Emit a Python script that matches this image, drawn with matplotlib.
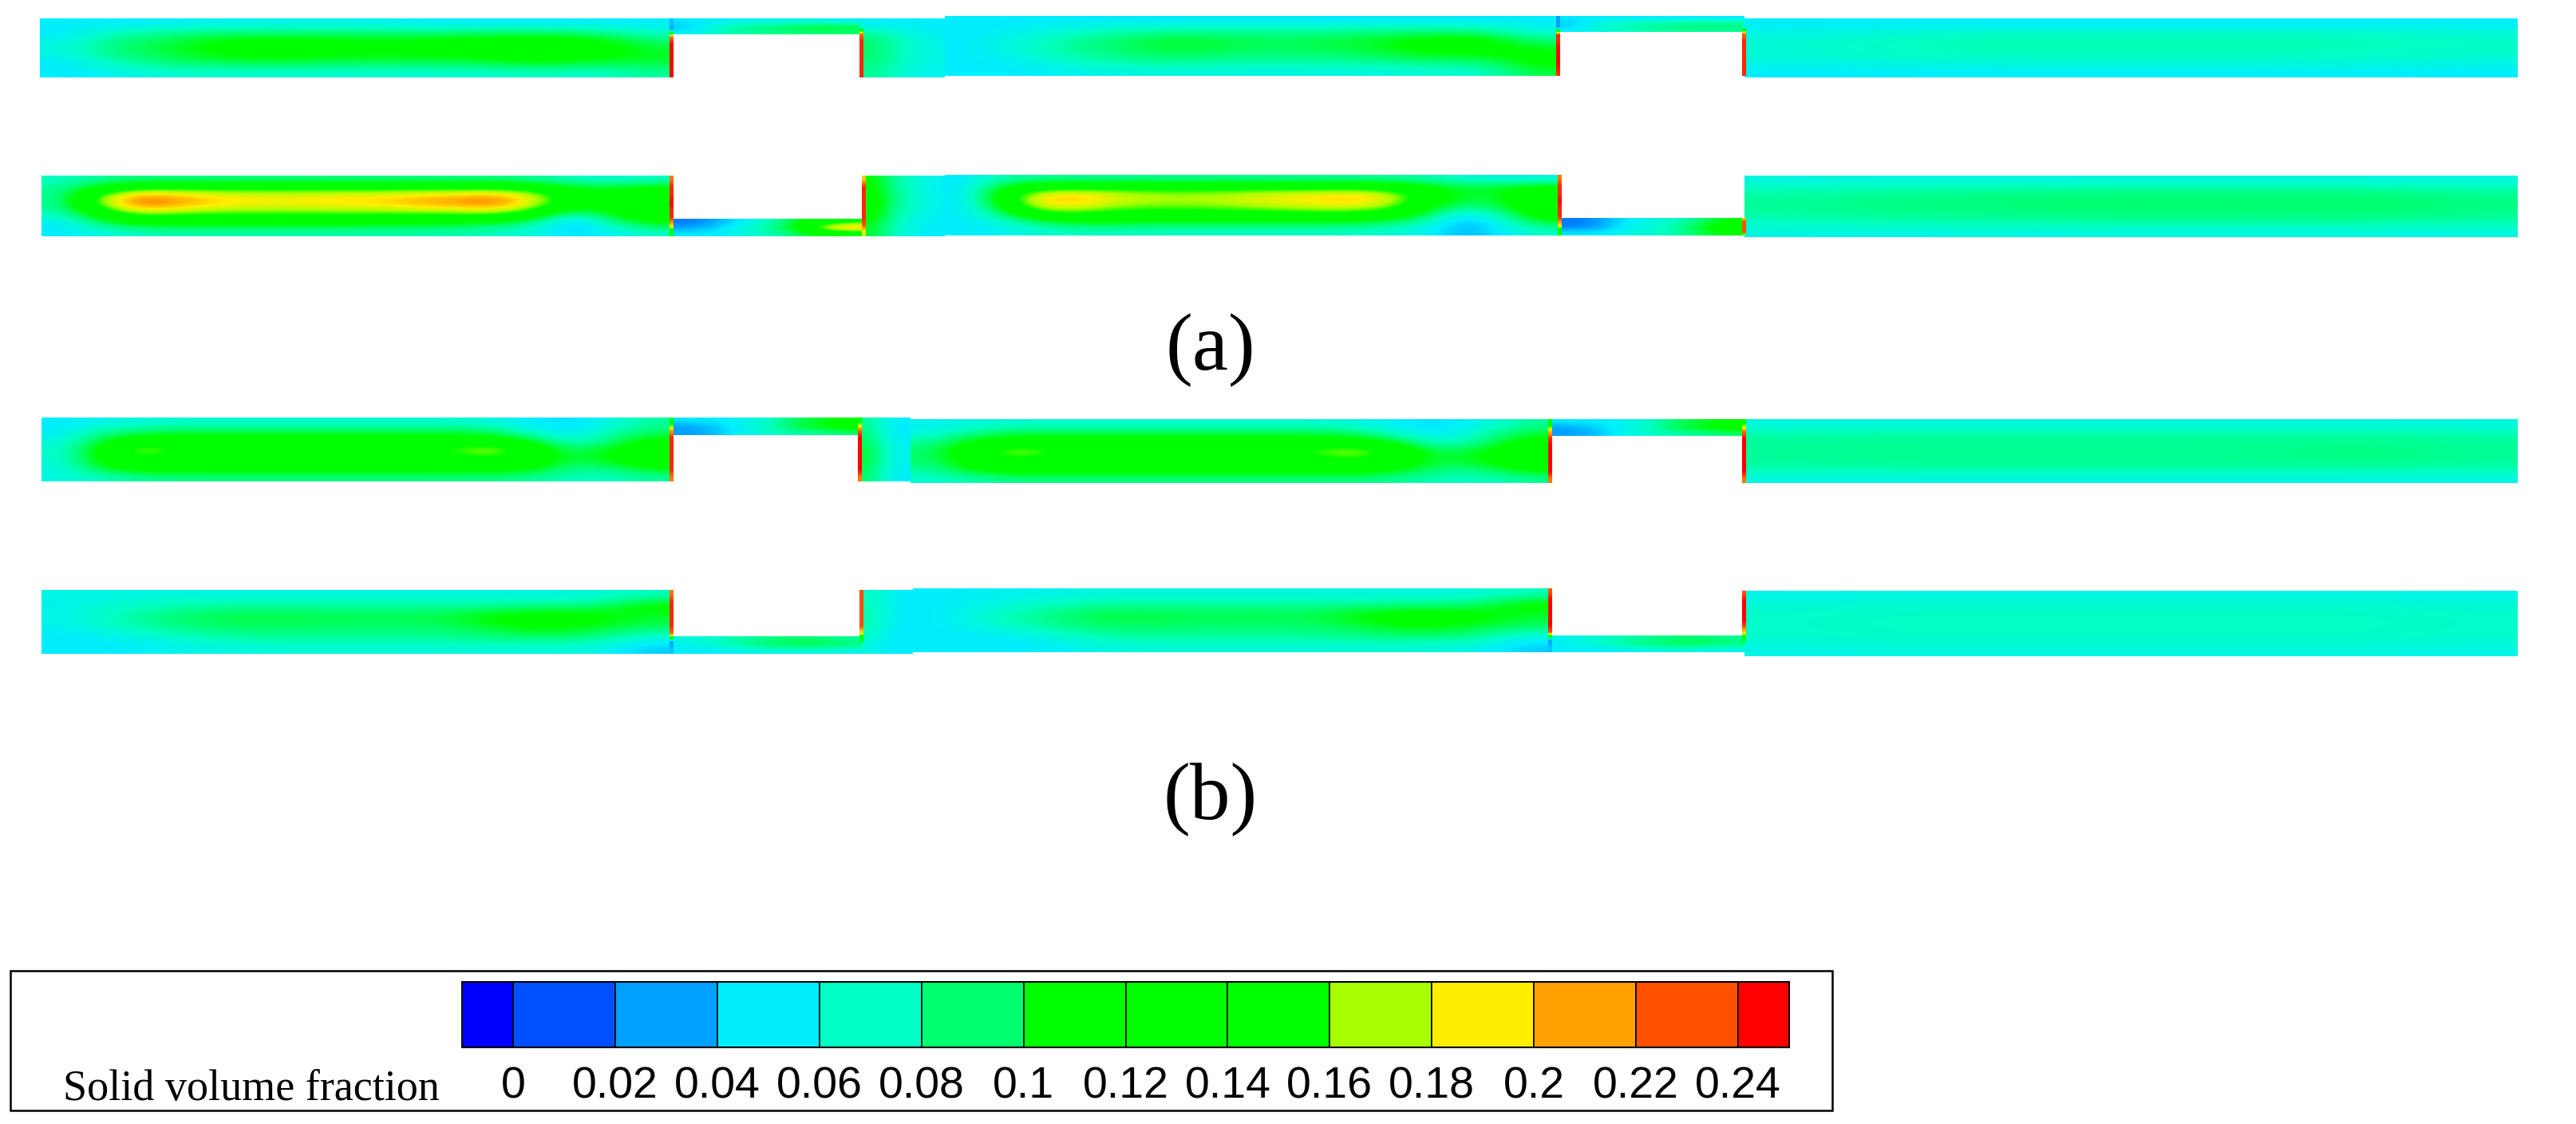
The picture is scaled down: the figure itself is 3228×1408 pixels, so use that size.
import matplotlib
matplotlib.use("Agg")
import matplotlib.pyplot as plt
import numpy as np
from matplotlib.colors import LinearSegmentedColormap
from matplotlib.patches import Rectangle

# legend bands
levels = [0, 0.02, 0.04, 0.06, 0.08, 0.1, 0.12, 0.14, 0.16, 0.18, 0.2, 0.22, 0.24]
level_labels = ["0", "0.02", "0.04", "0.06", "0.08", "0.1", "0.12", "0.14",
                "0.16", "0.18", "0.2", "0.22", "0.24"]
band_edges = [-0.01] + levels + [0.25]
band_colors = ["#0000ff", "#0050ff", "#00a0ff", "#00eeff", "#00ffc4", "#00ff6e",
               "#00ff00", "#00ff00", "#00ff00", "#a8ff00", "#ffee00", "#ffa000",
               "#ff5000", "#ff0000"]

# solid volume fraction, rows run top to bottom
a1_left = [
    [.05, .05, .05, .055, .055, .055, .055, .05, .05, .05, .05, .05],
    [.05, .075, .085, .09, .09, .09, .09, .09, .095, .095, .09, .07],
    [.06, .09, .10, .118, .122, .118, .115, .118, .122, .128, .122, .095],
    [.06, .09, .10, .115, .12, .115, .112, .115, .12, .128, .122, .105],
    [.05, .075, .09, .095, .10, .095, .095, .095, .10, .11, .10, .10],
    [.05, .055, .065, .065, .065, .065, .065, .065, .065, .07, .065, .08],
]
a1_bridge1 = [
    [.05, .05, .055, .055, .055, .05],
    [.04, .07, .085, .09, .105, .10],
    [.05, .07, .08, .085, .09, .09],
]
a1_conn = [
    [.05, .05, .05],
    [.09, .07, .055],
    [.09, .07, .06],
    [.09, .07, .06],
    [.08, .065, .055],
]
a1_right = [
    [.05, .05, .05, .05, .05, .05, .05, .05, .05, .05, .05, .05],
    [.05, .055, .065, .075, .08, .08, .08, .08, .085, .085, .085, .06],
    [.05, .065, .08, .095, .105, .10, .095, .10, .105, .122, .122, .09],
    [.05, .065, .08, .09, .10, .095, .09, .095, .10, .118, .118, .11],
    [.05, .055, .07, .08, .085, .08, .08, .08, .085, .09, .09, .12],
    [.05, .05, .055, .06, .06, .06, .06, .06, .06, .065, .065, .10],
]
a1_bridge2 = [
    [.05, .05, .05, .05, .05, .05],
    [.04, .07, .08, .085, .09, .09],
    [.05, .065, .07, .08, .08, .08],
]
a1_last = [
    [.05, .05, .05, .05, .05, .05, .05, .05],
    [.06, .065, .07, .07, .07, .07, .07, .065],
    [.065, .07, .075, .075, .075, .075, .072, .07],
    [.065, .07, .072, .072, .072, .072, .07, .068],
    [.06, .062, .065, .065, .065, .065, .065, .06],
    [.05, .05, .05, .05, .05, .05, .05, .05],
]
a2_left = [
    [.07, .08, .085, .085, .085, .085, .085, .085, .085, .085, .085, .085, .08, .07, .065, .07],
    [.08, .12, .15, .15, .15, .15, .15, .15, .15, .15, .15, .15, .14, .11, .11, .12],
    [.08, .17, .225, .21, .195, .19, .19, .195, .195, .205, .21, .222, .185, .125, .11, .14],
    [.08, .16, .22, .205, .19, .185, .185, .19, .19, .20, .205, .215, .175, .115, .115, .16],
    [.07, .12, .16, .15, .15, .15, .15, .15, .15, .15, .15, .155, .125, .07, .11, .13],
    [.05, .09, .115, .115, .115, .115, .115, .115, .11, .11, .105, .10, .08, .03, .08, .11],
    [.05, .06, .07, .075, .075, .075, .075, .075, .075, .075, .075, .07, .06, .045, .055, .07],
]
a2_bridge1 = [
    [.02, .03, .05, .07, .10, .12, .14],
    [.03, .04, .06, .08, .11, .19, .22],
    [.05, .05, .06, .07, .09, .11, .12],
]
a2_conn = [
    [.11, .08, .065, .055],
    [.125, .085, .07, .055],
    [.12, .08, .065, .055],
    [.10, .07, .055, .05],
]
a2_right = [
    [.05, .075, .08, .08, .08, .08, .08, .08, .08, .08, .08, .08, .075, .065, .06, .06],
    [.05, .11, .14, .145, .145, .145, .145, .145, .145, .145, .145, .14, .12, .10, .11, .12],
    [.05, .125, .20, .205, .185, .175, .175, .18, .19, .195, .205, .19, .13, .10, .10, .15],
    [.05, .115, .19, .19, .17, .165, .165, .17, .18, .185, .19, .175, .12, .09, .10, .14],
    [.05, .09, .145, .15, .14, .14, .14, .14, .14, .145, .145, .135, .10, .05, .08, .13],
    [.05, .06, .09, .105, .105, .10, .10, .10, .10, .10, .10, .09, .075, .03, .06, .10],
    [.05, .055, .065, .07, .07, .07, .07, .07, .07, .07, .07, .065, .055, .035, .05, .07],
]
a2_bridge2 = [
    [.02, .03, .05, .06, .07, .09, .11],
    [.02, .03, .055, .065, .08, .11, .13],
    [.05, .05, .06, .065, .075, .10, .11],
]
a2_last = [
    [.06, .06, .06, .06, .06, .06, .06, .06],
    [.075, .08, .082, .085, .085, .085, .085, .08],
    [.08, .085, .088, .09, .09, .09, .092, .085],
    [.08, .085, .085, .088, .088, .088, .09, .085],
    [.07, .075, .075, .08, .08, .08, .08, .075],
    [.06, .06, .06, .06, .06, .06, .06, .06],
]
b1_left = [
    [.05, .055, .06, .065, .065, .065, .065, .065, .065, .065, .065, .06, .05, .045, .06, .08],
    [.05, .08, .09, .095, .095, .095, .095, .095, .095, .095, .095, .09, .06, .05, .075, .09],
    [.06, .10, .125, .125, .125, .125, .125, .125, .125, .125, .125, .125, .10, .06, .09, .115],
    [.065, .115, .18, .15, .13, .13, .13, .13, .135, .145, .16, .18, .13, .09, .11, .13],
    [.065, .115, .15, .13, .125, .125, .125, .125, .125, .13, .14, .15, .125, .095, .115, .13],
    [.06, .105, .125, .125, .125, .125, .125, .125, .125, .125, .125, .125, .115, .085, .09, .115],
    [.06, .07, .08, .085, .085, .085, .085, .085, .085, .085, .085, .085, .08, .07, .07, .08],
]
b1_bridge1 = [
    [.05, .05, .055, .065, .09, .10, .115],
    [.03, .04, .055, .07, .10, .11, .125],
    [.03, .035, .055, .065, .075, .08, .09],
]
b1_conn = [
    [.08, .06, .05],
    [.09, .065, .05],
    [.10, .07, .055],
    [.10, .07, .055],
    [.09, .065, .05],
]
b1_right = [
    [.055, .06, .065, .065, .065, .065, .065, .065, .065, .065, .06, .05, .045, .06, .08],
    [.06, .085, .095, .095, .095, .095, .095, .095, .095, .095, .09, .06, .05, .075, .10],
    [.08, .115, .125, .125, .125, .125, .125, .125, .125, .125, .125, .10, .06, .09, .12],
    [.09, .135, .18, .15, .13, .13, .13, .135, .145, .16, .18, .13, .09, .11, .13],
    [.09, .125, .15, .13, .125, .125, .125, .125, .13, .14, .15, .125, .095, .115, .13],
    [.08, .115, .125, .125, .125, .125, .125, .125, .125, .125, .125, .11, .085, .09, .12],
    [.065, .075, .085, .085, .085, .085, .085, .085, .085, .085, .085, .08, .07, .07, .08],
]
b1_bridge2 = [
    [.05, .05, .055, .065, .09, .10, .115],
    [.03, .04, .055, .07, .10, .11, .125],
    [.03, .035, .055, .065, .075, .08, .09],
]
b1_last = [
    [.06, .06, .06, .06, .06, .06, .06, .06],
    [.078, .08, .08, .08, .08, .08, .08, .078],
    [.08, .082, .082, .082, .082, .082, .085, .08],
    [.08, .082, .082, .082, .082, .082, .088, .08],
    [.078, .08, .08, .08, .08, .08, .08, .078],
    [.06, .06, .06, .06, .06, .06, .06, .06],
]
b2_left = [
    [.06, .06, .06, .06, .06, .06, .06, .06, .06, .06, .06, .07],
    [.055, .068, .075, .08, .08, .08, .08, .08, .08, .085, .085, .12],
    [.06, .075, .09, .10, .10, .098, .098, .098, .115, .125, .12, .10],
    [.055, .07, .085, .092, .092, .09, .09, .09, .10, .115, .105, .095],
    [.05, .055, .065, .075, .08, .08, .08, .08, .085, .09, .085, .06],
    [.05, .05, .055, .06, .062, .062, .062, .062, .062, .062, .06, .04],
]
b2_bridge1 = [
    [.06, .07, .08, .09, .09, .08],
    [.055, .07, .085, .095, .10, .09],
    [.05, .05, .055, .06, .06, .055],
]
b2_conn = [
    [.07, .06, .05],
    [.075, .06, .05],
    [.075, .06, .05],
    [.07, .055, .05],
    [.06, .05, .05],
]
b2_right = [
    [.05, .055, .055, .06, .06, .06, .06, .06, .06, .06, .06, .07],
    [.05, .06, .07, .08, .08, .08, .08, .08, .08, .085, .085, .12],
    [.05, .07, .085, .10, .10, .098, .098, .098, .115, .125, .12, .10],
    [.05, .065, .08, .092, .092, .09, .09, .09, .10, .115, .105, .095],
    [.05, .05, .06, .075, .08, .08, .08, .08, .085, .09, .085, .06],
    [.05, .05, .05, .06, .062, .062, .062, .062, .062, .062, .06, .04],
]
b2_bridge2 = [
    [.055, .065, .075, .085, .09, .08],
    [.055, .07, .085, .095, .10, .09],
    [.05, .05, .055, .06, .06, .055],
]
b2_last = [
    [.058, .06, .06, .06, .06, .06, .06, .058],
    [.066, .068, .068, .068, .068, .068, .068, .066],
    [.068, .07, .07, .07, .07, .07, .07, .068],
    [.068, .07, .07, .07, .07, .07, .07, .068],
    [.066, .068, .068, .068, .068, .068, .068, .066],
    [.058, .06, .06, .06, .06, .06, .06, .058],
]

# near wall values, top to bottom
a1_wall1 = [.04, .03, .22, .25, .25, .25, .25, .25]
a1_wall2 = [.06, .22, .24, .24, .24, .24, .24, .24]
a1_wall3 = [.03, .03, .24, .24, .25, .25, .25, .24]
a1_wall4 = [.06, .22, .24, .24, .24, .24, .24, .24]
a2_wall1 = [.22, .24, .24, .25, .24, .24, .20, .12]
a2_wall2 = [.20, .24, .24, .24, .24, .24, .23, .18]
a2_wall3 = [.22, .24, .24, .25, .24, .24, .20, .12]
a2_wall4 = [.20, .23, .23, .23, .23, .23, .23, .16]
b1_wall1 = [.12, .20, .24, .24, .24, .24, .24, .22]
b1_wall2 = [.14, .22, .25, .25, .25, .25, .25, .22]
b1_wall3 = [.12, .20, .24, .25, .25, .25, .25, .22]
b1_wall4 = [.14, .22, .25, .25, .25, .25, .25, .22]
b2_wall1 = [.22, .24, .24, .24, .24, .22, .03, .04]
b2_wall2 = [.23, .23, .23, .23, .23, .23, .19, .10]
b2_wall3 = [.23, .25, .25, .25, .25, .23, .03, .04]
b2_wall4 = [.23, .25, .25, .25, .25, .23, .19, .10]

# placement in image pixels: x0, x1, top, bottom
blocks = [
    (50, 842, 23, 97, a1_left), (842, 1080, 23, 43, a1_bridge1),
    (1080, 1184, 23, 97, a1_conn), (1184, 1953, 20, 95, a1_right),
    (1953, 2186, 20, 40, a1_bridge2), (2186, 3155, 23, 97, a1_last),
    (52, 842, 220, 296, a2_left), (842, 1083, 274, 296, a2_bridge1),
    (1083, 1184, 220, 296, a2_conn), (1184, 1955, 219, 295, a2_right),
    (1955, 2186, 273, 295, a2_bridge2), (2186, 3155, 220, 297, a2_last),
    (52, 842, 523, 603, b1_left), (842, 1078, 523, 545, b1_bridge1),
    (1078, 1141, 523, 603, b1_conn), (1141, 1943, 525, 605, b1_right),
    (1943, 2186, 525, 546, b1_bridge2), (2186, 3155, 525, 605, b1_last),
    (52, 842, 739, 819, b2_left), (842, 1080, 797, 819, b2_bridge1),
    (1080, 1144, 739, 819, b2_conn), (1144, 1943, 737, 817, b2_right),
    (1943, 2186, 796, 817, b2_bridge2), (2186, 3155, 740, 822, b2_last),
]
walls = [
    (842, 23, 97, a1_wall1), (1080, 30, 97, a1_wall2),
    (1953, 20, 95, a1_wall3), (2186, 30, 95, a1_wall4),
    (842, 220, 296, a2_wall1), (1083, 220, 296, a2_wall2),
    (1955, 219, 295, a2_wall3), (2186, 273, 295, a2_wall4),
    (842, 523, 603, b1_wall1), (1078, 523, 603, b1_wall2),
    (1943, 525, 605, b1_wall3), (2186, 525, 605, b1_wall4),
    (842, 739, 819, b2_wall1), (1080, 739, 805, b2_wall2),
    (1943, 737, 817, b2_wall3), (2186, 740, 805, b2_wall4),
]

cmap_stops = [0, .01, .03, .05, .07, .09, .11, .15, .17, .19, .21, .23, .25]
cmap_colors = ["#0000ff", "#0050ff", "#00a0ff", "#00eeff", "#00ffc4", "#00ff6e",
               "#00ff00", "#00ff00", "#a8ff00", "#ffee00", "#ffa000", "#ff5000",
               "#ff0000"]
field_cmap = LinearSegmentedColormap.from_list(
    "tecplot", [(s / .25, c) for s, c in zip(cmap_stops, cmap_colors)])

W, H = 3228, 1408
fig = plt.figure(figsize=(W / 100, H / 100), dpi=100)
ax = fig.add_axes([0, 0, 1, 1])

for x0, x1, top, bottom, grid in blocks:
    ax.imshow(grid, extent=(x0, x1, bottom, top), cmap=field_cmap, vmin=0, vmax=.25,
              aspect="auto", interpolation="bicubic", zorder=2)
for x, top, bottom, vals in walls:
    col = np.array(vals).reshape(-1, 1)
    ax.imshow(col, extent=(x - 3, x + 2, bottom, top), cmap=field_cmap, vmin=0, vmax=.25,
              aspect="auto", interpolation="bilinear", zorder=3)

ax.set_xlim(0, W)
ax.set_ylim(H, 0)
ax.axis("off")

ax.text(1517, 439, "(a)", family="Liberation Serif", fontsize=73, ha="center", va="center")
ax.text(1517, 1002, "(b)", family="Liberation Serif", fontsize=73, ha="center", va="center")

# legend
ax.add_patch(Rectangle((13, 1216), 2283, 175, fc="white", ec="black", lw=1.8, zorder=1))
ax.text(79, 1378, "Solid volume fraction", family="Liberation Serif", fontsize=39,
        ha="left", va="baseline")

cax = fig.add_axes([579 / W, 1 - 1312 / H, (2242 - 579) / W, (1312 - 1230) / H])
cax.bar(band_edges[:-1], 1, width=np.diff(band_edges), align="edge", color=band_colors,
        edgecolor="black", linewidth=1.2)
cax.set_xlim(band_edges[0], band_edges[-1])
cax.set_ylim(0, 1)
cax.set_yticks([])
cax.set_xticks(levels)
cax.set_xticklabels(level_labels, family="Liberation Sans", fontsize=40)
cax.tick_params(axis="x", length=0, pad=17)
for s in cax.spines.values():
    s.set_linewidth(1.5)

fig.savefig("out.png", dpi=100)
